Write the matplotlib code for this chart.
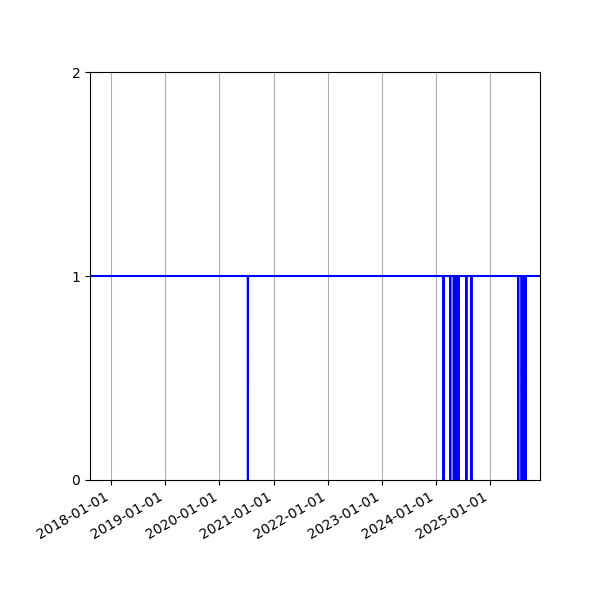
import matplotlib
matplotlib.use("Agg")
import matplotlib.pyplot as plt
import matplotlib.dates as mdates
import pandas as pd

start_date = "2017-08-10"
end_date = "2025-12-04"
zero_dates = [
    "2020-07-11",
    "2024-02-22",
    "2024-04-07",
    "2024-05-01", "2024-05-05", "2024-05-09", "2024-05-13", "2024-05-17",
    "2024-05-21", "2024-05-25", "2024-05-29", "2024-06-02",
    "2024-07-25",
    "2024-08-28",
    "2025-07-10",
    "2025-08-02", "2025-08-06", "2025-08-10", "2025-08-14", "2025-08-18",
    "2025-08-22", "2025-08-26", "2025-08-30",
]
y_ticks = [0, 1, 2]

idx = pd.date_range(start_date, end_date, freq="D")
series = pd.Series(1, index=idx)
series.loc[pd.to_datetime(zero_dates)] = 0

fig, ax = plt.subplots(figsize=(6, 6), dpi=100)
fig.subplots_adjust(left=0.15, right=0.9, top=0.88, bottom=0.2)
ax.plot(series.index, series.values, color="b", linewidth=1.5)
ax.set_xlim(idx[0], idx[-1])
ax.set_ylim(0, 2)
ax.set_yticks(y_ticks)
ax.xaxis.set_major_locator(mdates.YearLocator())
ax.xaxis.set_major_formatter(mdates.DateFormatter("%Y-%m-%d"))
ax.grid(True, axis="x")
fig.autofmt_xdate()
fig.subplots_adjust(left=0.15, right=0.9, top=0.88, bottom=0.2)
fig.savefig("out.png", dpi=100)
